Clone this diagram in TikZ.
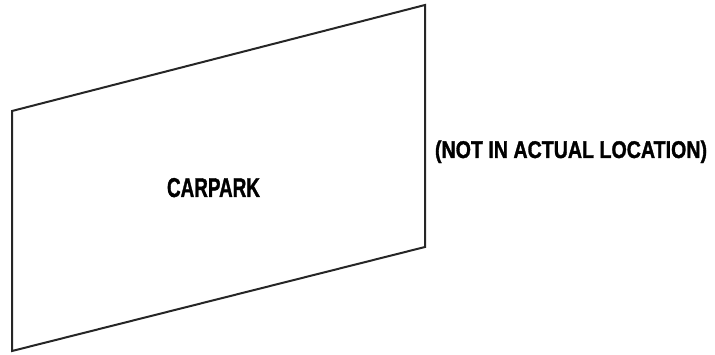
\documentclass[tikz,border=0pt]{standalone}
\usepackage{fontspec}
\usepackage{graphicx}
\setmainfont{Liberation Sans}
\newfontfamily\heavyfont[BoldFeatures={FakeBold=1.5}]{Liberation Sans}
\begin{document}
\begin{tikzpicture}[x=1pt,y=-1pt,
  lbl/.style={inner sep=0pt,outer sep=0pt,font=\heavyfont\bfseries}]
\useasboundingbox (0,0) rectangle (715,355);
\coordinate (tl) at (12,111);
\coordinate (tr) at (425,5);
\coordinate (br) at (425,247);
\coordinate (bl) at (12,351);
\draw[line width=2pt,line join=miter,color=black!85] (tl) -- (tr) -- (br) -- (bl) -- cycle;
\node[lbl,anchor=base] (carpark) at (213.5,197) {\resizebox{93pt}{19pt}{CARPARK}};
\node[lbl,anchor=base west] (note) at (435,158) {\resizebox{272pt}{17.5pt}{(NOT IN ACTUAL LOCATION)}};
\end{tikzpicture}
\end{document}
